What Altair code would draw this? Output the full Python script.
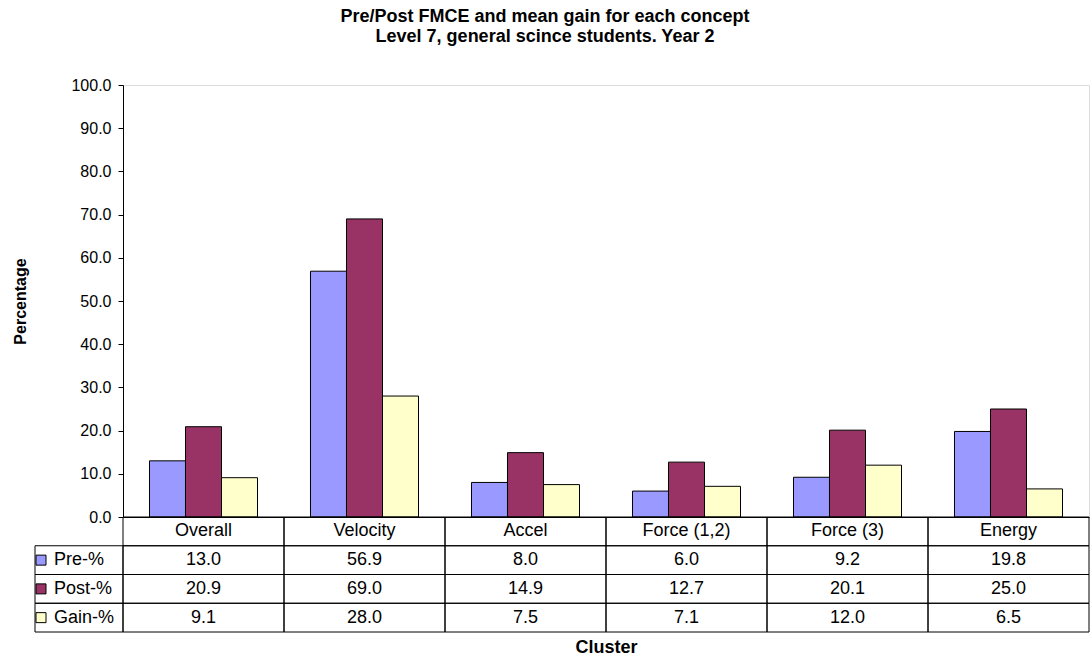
import altair as alt
import pandas as pd

# Concept clusters and the three measured series (percent)
clusters = ["Overall", "Velocity", "Accel", "Force (1,2)", "Force (3)", "Energy"]
series = ["Pre-%", "Post-%", "Gain-%"]
pre = [13.0, 56.9, 8.0, 6.0, 9.2, 19.8]
post = [20.9, 69.0, 14.9, 12.7, 20.1, 25.0]
gain = [9.1, 28.0, 7.5, 7.1, 12.0, 6.5]
colors = ["#9999FF", "#993366", "#FFFFCC"]
y_ticks = [0, 10, 20, 30, 40, 50, 60, 70, 80, 90, 100]

FONT = "Liberation Sans"
W, H = 966, 432
TABLE_TOP, TABLE_BOTTOM = 432, 547
LEGEND_COL = 88
TABLE_FONT = 18

rows = ["hdr"] + series

long = pd.DataFrame(
    [
        {"cluster": c, "series": s, "value": v}
        for s, vals in zip(series, [pre, post, gain])
        for c, v in zip(clusters, vals)
    ]
)
long["label"] = long["value"].map(lambda v: f"{v:.1f}")

headers = pd.DataFrame({"cluster": clusters, "row": "hdr"})
cells = pd.DataFrame([{"cluster": c, "row": r} for c in clusters for r in rows])
legend_rows = pd.DataFrame({"row": series, "series": series})

x_enc = alt.X(
    "cluster:N",
    sort=clusters,
    scale=alt.Scale(paddingInner=0, paddingOuter=0),
    axis=alt.Axis(
        labels=False,
        ticks=False,
        domain=True,
        domainColor="black",
        title="Cluster",
        titleFont=FONT,
        titleFontSize=18,
        titleFontWeight="bold",
        titleColor="black",
        titlePadding=121,
    ),
)
color_enc = alt.Color(
    "series:N", sort=series, scale=alt.Scale(domain=series, range=colors), legend=None
)
row_scale = alt.Scale(
    domain=rows, range=[TABLE_TOP, TABLE_BOTTOM], paddingInner=0, paddingOuter=0
)

bars = (
    alt.Chart(long)
    .mark_bar(stroke="black", strokeWidth=1)
    .encode(
        x=x_enc,
        xOffset=alt.XOffset(
            "series:N",
            sort=series,
            scale=alt.Scale(paddingInner=0, paddingOuter=0.736),
        ),
        y=alt.Y(
            "value:Q",
            scale=alt.Scale(domain=[0, 100], nice=False),
            axis=alt.Axis(
                values=y_ticks,
                format=".1f",
                grid=False,
                tickSize=5,
                tickColor="black",
                domainColor="black",
                labelFont=FONT,
                labelFontSize=16,
                labelColor="black",
                labelPadding=7,
                title="Percentage",
                titleFont=FONT,
                titleFontSize=16,
                titleFontWeight="bold",
                titleColor="black",
                titlePadding=42,
            ),
        ),
        color=color_enc,
    )
)

# Data table under the plot: cell borders, header names and values
cell_rects = (
    alt.Chart(cells)
    .mark_rect(fillOpacity=0, stroke="black", strokeWidth=1)
    .encode(
        x=alt.X("cluster:N", sort=clusters),
        y=alt.Y("row:N", sort=rows, scale=row_scale, axis=None),
    )
)

header_text = (
    alt.Chart(headers)
    .mark_text(font=FONT, fontSize=TABLE_FONT, color="black", align="center", baseline="middle")
    .encode(
        x=alt.X("cluster:N", sort=clusters),
        y=alt.Y("row:N", sort=rows, scale=row_scale, axis=None),
        text="cluster:N",
    )
)

value_text = (
    alt.Chart(long)
    .mark_text(font=FONT, fontSize=TABLE_FONT, color="black", align="center", baseline="middle")
    .encode(
        x=alt.X("cluster:N", sort=clusters),
        y=alt.Y("series:N", sort=rows, scale=row_scale, axis=None),
        text="label:N",
    )
)

legend_cells = (
    alt.Chart(legend_rows)
    .mark_rect(fillOpacity=0, stroke="black", strokeWidth=1)
    .encode(
        x=alt.value(-LEGEND_COL),
        x2=alt.value(0),
        y=alt.Y("row:N", sort=rows, scale=row_scale, axis=None),
    )
)

legend_swatches = (
    alt.Chart(legend_rows)
    .mark_square(size=100, opacity=1, stroke="black", strokeWidth=1)
    .encode(
        x=alt.value(-LEGEND_COL + 6),
        y=alt.Y("row:N", sort=rows, scale=row_scale, axis=None),
        color=color_enc,
    )
)

legend_text = (
    alt.Chart(legend_rows)
    .mark_text(font=FONT, fontSize=TABLE_FONT, color="black", align="left", baseline="middle")
    .encode(
        x=alt.value(-LEGEND_COL + 19),
        y=alt.Y("row:N", sort=rows, scale=row_scale, axis=None),
        text="row:N",
    )
)

chart = (
    alt.layer(bars, cell_rects, header_text, value_text, legend_cells, legend_swatches, legend_text)
    .resolve_scale(y="independent")
    .properties(
        width=W,
        height=H,
        autosize=alt.AutoSizeParams(type="none"),
        padding={"left": 123, "top": 85, "right": 1, "bottom": 140},
        title=alt.TitleParams(
            text=[
                "Pre/Post FMCE and mean gain for each concept",
                "Level 7, general scince students. Year 2",
            ],
            font=FONT,
            fontSize=18,
            fontWeight="bold",
            color="black",
            anchor="middle",
            dx=-61,
            offset=31,
            lineHeight=20,
        ),
    )
    .configure_view(stroke=None)
    .configure(background="white")
)

chart.save("out.html", embed_options={"renderer": "svg", "actions": False})
